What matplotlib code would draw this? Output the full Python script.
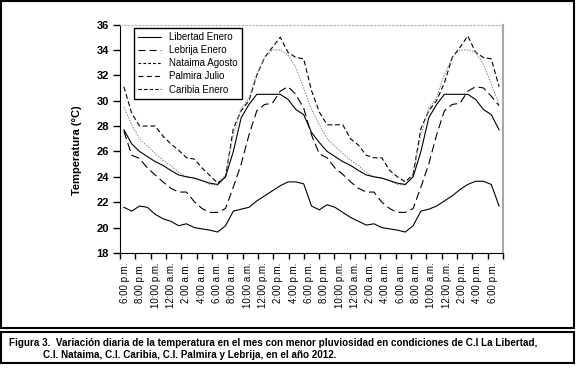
import matplotlib
matplotlib.use('Agg')
import matplotlib.pyplot as plt
from matplotlib.lines import Line2D
from matplotlib.patches import Rectangle

# Hourly temperature (°C), from 6:00 p.m. through two days to 6:00 p.m.
libertad = [27.7, 26.6, 26.0, 25.6, 25.2, 24.9, 24.5, 24.15, 24.0, 23.9, 23.7, 23.5,
            23.4, 24.0, 26.0, 28.65, 29.7, 30.5, 30.5, 30.5, 30.5, 30.1, 29.3, 28.9,
            27.5, 26.7, 26.0, 25.6, 25.2, 24.9, 24.5, 24.15, 24.0, 23.9, 23.7, 23.5,
            23.4, 24.0, 26.0, 28.65, 29.7, 30.5, 30.5, 30.5, 30.5, 30.1, 29.3, 28.9,
            27.7]
lebrija = [21.6, 21.3, 21.7, 21.6, 21.05, 20.7, 20.5, 20.15, 20.3, 20.0, 19.9, 19.8,
           19.65, 20.15, 21.3, 21.45, 21.6, 22.1, 22.5, 22.9, 23.3, 23.6, 23.6, 23.45,
           21.7, 21.4, 21.8, 21.6, 21.2, 20.8, 20.5, 20.2, 20.3, 20.0, 19.9, 19.8,
           19.65, 20.15, 21.3, 21.45, 21.7, 22.1, 22.5, 23.0, 23.4, 23.65, 23.65, 23.4,
           21.7]
nataima = [29.5, 28.1, 27.0, 26.4, 25.85, 25.3, 24.9, 24.35, 24.0, 23.9, 23.7, 23.4,
           23.35, 24.2, 27.3, 29.4, 30.2, 32.1, 33.4, 34.0, 34.0, 33.6, 32.6, 31.0,
           29.3, 28.1, 27.0, 26.4, 25.85, 25.3, 24.9, 24.35, 24.0, 23.9, 23.7, 23.4,
           23.35, 24.2, 27.3, 29.4, 30.2, 32.1, 33.4, 34.0, 34.0, 33.8, 32.85, 31.3,
           29.7]
palmira = [27.6, 25.7, 25.45, 24.7, 24.15, 23.6, 23.1, 22.8, 22.8, 22.05, 21.5, 21.2,
           21.2, 21.5, 23.2, 25.0, 27.3, 29.2, 29.7, 29.8, 30.75, 31.1, 30.5, 29.4,
           27.3, 25.8, 25.5, 24.7, 24.2, 23.6, 23.1, 22.8, 22.8, 22.0, 21.5, 21.2,
           21.2, 21.5, 23.2, 25.0, 27.3, 29.2, 29.7, 29.8, 30.75, 31.1, 31.0, 30.35,
           29.6]
caribia = [31.1, 29.0, 28.0, 28.0, 28.0, 27.2, 26.6, 26.1, 25.5, 25.4, 24.7, 24.1,
           23.5, 24.0, 27.8, 29.2, 30.0, 32.0, 33.4, 34.2, 35.0, 33.8, 33.4, 33.3,
           30.8, 29.1, 28.1, 28.1, 28.1, 27.0, 26.5, 25.7, 25.5, 25.5, 24.5, 24.0,
           23.6, 24.2, 27.8, 29.2, 30.0, 31.4, 33.4, 34.2, 35.1, 33.8, 33.4, 33.3,
           31.1]

hour_labels = ['6:00 p.m.', '8:00 p.m.', '10:00 p.m.', '12:00 a.m.', '2:00 a.m.', '4:00 a.m.',
               '6:00 a.m.', '8:00 a.m.', '10:00 a.m.', '12:00 p.m.', '2:00 p.m.', '4:00 p.m.',
               '6:00 p.m.', '8:00 p.m.', '10:00 p.m.', '12:00 a.m.', '2:00 a.m.', '4:00 a.m.',
               '6:00 a.m.', '8:00 a.m.', '10:00 a.m.', '12:00 p.m.', '2:00 p.m.', '4:00 p.m.',
               '6:00 p.m.']

series_names = ['Libertad Enero', 'Lebrija Enero', 'Nataima Agosto', 'Palmira Julio', 'Caribia Enero']

plt.rcParams['font.family'] = ['Liberation Sans', 'DejaVu Sans']
plt.rcParams['lines.scale_dashes'] = False

W, H = 576, 368
fig = plt.figure(figsize=(W / 100, H / 100), dpi=100)
ax = fig.add_axes([120 / W, 1 - 253 / H, 383 / W, 228.5 / H])

x = list(range(len(libertad)))
ax.plot(x, caribia, color='black', lw=0.8, dashes=(3.5, 2))
ax.plot(x, nataima, color='#8c8c8c', lw=0.8, dashes=(1, 1))
ax.plot(x, libertad, color='black', lw=0.8)
ax.plot(x, palmira, color='black', lw=0.8, dashes=(6, 3))
ax.plot(x, lebrija, color='black', lw=0.8)

ax.set_xlim(-0.5, 48.5)
ax.set_ylim(18, 36)
ax.set_yticks(range(18, 37, 2))
ax.tick_params(axis='y', direction='out', length=5, width=1, labelsize=8, pad=3)
for lab in ax.get_yticklabels():
    lab.set_fontweight('bold')

# category ticks between labels, labels in the slots
n = len(hour_labels)
span = 49.0
ax.set_xticks([-0.5 + span * (k + 0.33) / n for k in range(n)])
ax.set_xticklabels(hour_labels, rotation=90, fontsize=7)
ax.set_xticks([-0.5 + span * k / n for k in range(n + 1)], minor=True)
ax.tick_params(axis='x', which='major', length=0, pad=7)
ax.tick_params(axis='x', which='minor', direction='out', length=4.5, width=1)

ax.spines['top'].set_color('#b4b4b4')
ax.spines['top'].set_linestyle(':')
ax.spines['right'].set_color('#a8a8a8')
ax.spines['right'].set_linewidth(1.5)

fig.text(77 / W, 1 - 150 / H, 'Temperatura (°C)', rotation=90, ha='center', va='center',
         fontsize=8, fontweight='bold')

handles = [Line2D([], [], color='black', lw=0.8),
           Line2D([], [], color='black', lw=0.8, dashes=(5, 3)),
           Line2D([], [], color='black', lw=0.8, dashes=(2, 1.5)),
           Line2D([], [], color='black', lw=0.8, dashes=(3.5, 2.5)),
           Line2D([], [], color='black', lw=0.8, dashes=(2.5, 1.5))]
leg = ax.legend(handles, series_names, loc='upper left', bbox_to_anchor=(14 / 383, 0.986),
                borderaxespad=0, fontsize=7, fancybox=False, edgecolor='black',
                framealpha=1, handlelength=2.3, handletextpad=0.9, labelspacing=0.32,
                borderpad=0.45)
leg.get_frame().set_linewidth(1)

fig.add_artist(Rectangle((1 / W, 1 - 328 / H), 573 / W, 327 / H, transform=fig.transFigure,
                         fill=False, edgecolor='black', lw=1.5))
fig.add_artist(Rectangle((1 / W, 1 - 363 / H), 573 / W, 31 / H, transform=fig.transFigure,
                         fill=False, edgecolor='black', lw=1.5))

fig.text(9 / W, 1 - 342.5 / H,
         'Figura 3.  Variación diaria de la temperatura en el mes con menor pluviosidad '
         'en condiciones de C.I La Libertad,',
         fontsize=7.1, fontweight='bold', va='center')
fig.text(43 / W, 1 - 354.5 / H,
         'C.I. Nataima, C.I. Caribia, C.I. Palmira y Lebrija, en el año 2012.',
         fontsize=7.1, fontweight='bold', va='center')

fig.savefig('out.png', dpi=100)
